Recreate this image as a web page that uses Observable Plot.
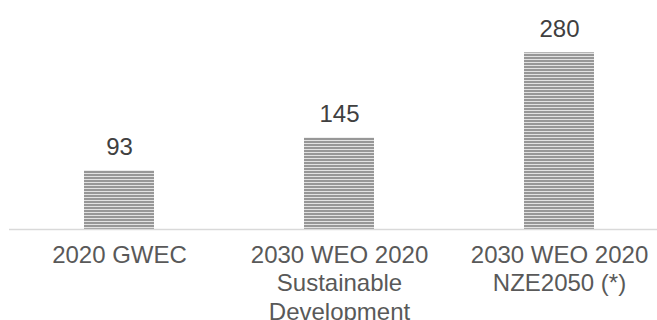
<!DOCTYPE html>
<html>
<head>
<meta charset="utf-8">
<script src="https://cdn.jsdelivr.net/npm/d3@7"></script>
<script src="https://cdn.jsdelivr.net/npm/@observablehq/plot@0.6"></script>
<style>
  html, body { margin: 0; padding: 0; background: #fff; }
  #chart { width: 657px; height: 320px; overflow: hidden; }
</style>
</head>
<body>
<div id="chart"></div>
<script>
const categories = ["2020 GWEC", "2030 WEO 2020 Sustainable Development", "2030 WEO 2020 NZE2050 (*)"];
const labels = ["2020 GWEC", "2030 WEO 2020\nSustainable\nDevelopment", "2030 WEO 2020\nNZE2050 (*)"];
const values = [93, 145, 280];

const data = categories.map((c, i) => ({category: c, label: labels[i], value: values[i]}));

const defs = () => {
  const g = d3.create("svg:defs");
  const p = g.append("pattern")
    .attr("id", "stripes")
    .attr("patternUnits", "userSpaceOnUse")
    .attr("width", 6).attr("height", 3);
  p.append("rect").attr("width", 6).attr("height", 3).attr("fill", "#979797");
  p.append("rect").attr("y", 2).attr("width", 6).attr("height", 1).attr("fill", "#e2e2e2");
  return g.node();
};

const font = "'Liberation Sans', Arial, sans-serif";

const chart = Plot.plot({
  width: 657,
  height: 320,
  marginLeft: 9,
  marginRight: -13,
  marginTop: 52,
  marginBottom: 91,
  style: {fontFamily: font, background: "#fff", overflow: "visible"},
  x: {domain: categories, range: [9, 670], paddingInner: 0.68, paddingOuter: 0.34, axis: null},
  y: {domain: [0, 280], range: [229, 52.3], axis: null},
  marks: [
    defs,
    Plot.barY(data, {x: "category", y: "value", fill: "url(#stripes)"}),
    Plot.ruleY([0], {stroke: "#d9d9d9", strokeWidth: 1.5}),
    Plot.text(data, {x: "category", y: "value", text: d => String(d.value), lineAnchor: "top", dy: -33, fontSize: 24, fill: "#404040"}),
    Plot.text(data, {x: "category", y: () => 0, text: "label", lineAnchor: "top", dy: 13, fontSize: 24, lineHeight: 1.19, fill: "#595959"})
  ]
});

document.getElementById("chart").appendChild(chart);
</script>
</body>
</html>
